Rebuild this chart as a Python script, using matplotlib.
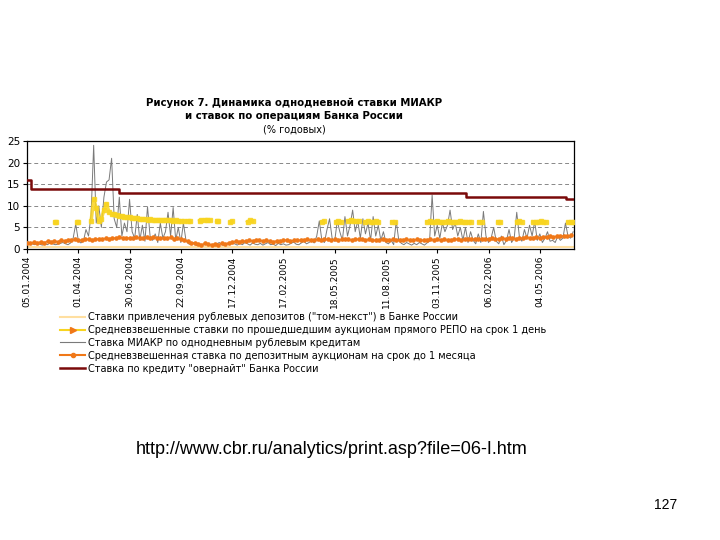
import numpy as np
import matplotlib
matplotlib.use("Agg")
import matplotlib.pyplot as plt
from matplotlib.lines import Line2D

plt.rcParams['font.family'] = ['DejaVu Sans']

# торговые дни, шкала по индексу
n_days = 640
tick_pos = [0, 60, 120, 180, 240, 300, 360, 420, 480, 540, 600]
tick_labels = ['05.01.2004', '01.04.2004', '30.06.2004', '22.09.2004', '17.12.2004',
               '17.02.2005', '18.05.2005', '11.08.2005', '03.11.2005', '06.02.2006',
               '04.05.2006']

# МИАКР, каждые 3 дня
miacr_step = 3
miacr = [
    1.8, 1.5, 1.2, 1.0, 1.3, 1.1, 0.9, 1.2, 1.0, 1.4,
    1.2, 1.0, 1.1, 1.3, 1.5, 1.2, 1.0, 1.4, 2.5, 5.8,
    2.0, 1.4, 1.8, 4.5, 3.0, 8.0, 24.0, 6.0, 10.0, 5.0,
    12.0, 15.5, 16.0, 21.0, 7.0, 5.0, 12.0, 3.0, 6.0, 4.0,
    11.5, 4.0, 2.5, 8.0, 2.0, 5.5, 1.8, 9.8, 3.0, 2.0,
    3.5, 1.5, 6.0, 2.5, 4.0, 8.5, 3.0, 9.6, 2.0, 5.0,
    1.5, 6.0, 2.0, 1.2, 1.0, 1.5, 0.8, 1.2, 0.8, 1.0,
    1.3, 0.9, 1.1, 0.8, 1.2, 1.5, 1.0, 0.8, 1.2, 1.0,
    1.4, 1.2, 0.9, 1.3, 1.0, 1.5, 1.2, 0.9, 1.4, 1.1,
    1.0, 1.3, 0.9, 1.2, 1.5, 1.0, 1.1, 0.8, 1.3, 1.0,
    1.2, 0.9, 1.0, 1.3, 1.6, 1.1, 1.0, 1.4, 1.8, 1.2,
    1.5, 2.0, 1.4, 3.0, 6.5, 2.0, 1.5, 4.5, 7.0, 2.5,
    1.8, 6.5, 4.0, 2.0, 7.5, 3.0, 5.5, 9.0, 4.0, 6.5,
    2.5, 7.0, 3.5, 6.0, 2.0, 7.5, 3.0, 5.5, 2.0, 4.0,
    1.5, 1.2, 2.0, 1.0, 6.5, 2.0, 1.3, 1.0, 1.5, 1.2,
    0.9, 1.3, 1.0, 1.5, 1.2, 0.9, 1.4, 1.8, 12.5, 3.0,
    5.5, 2.5, 6.0, 4.0, 5.5, 9.0, 4.5, 6.0, 3.0, 5.0,
    2.0, 5.0, 1.5, 4.0, 2.0, 1.2, 3.5, 1.5, 8.7, 3.0,
    1.5, 2.5, 5.0, 1.8, 1.2, 3.0, 1.0, 2.0, 4.5, 1.5,
    2.5, 8.5, 3.0, 1.8, 4.5, 2.5, 5.5, 3.0, 6.4, 2.0,
    3.5, 1.5, 2.5, 4.0, 1.8, 2.0, 1.5, 3.0, 2.0, 2.5,
    6.0, 3.0, 2.5, 4.0,
]

# депозитные аукционы, каждые 4 дня
depauc_step = 4
depauc = [
    1.5, 1.3, 1.6, 1.4, 1.7, 1.5, 1.8, 1.6, 1.9, 1.7,
    2.0, 1.9, 2.1, 2.0, 2.2, 2.1, 2.0, 2.2, 2.3, 2.1,
    2.2, 2.4, 2.3, 2.5, 2.4, 2.6, 2.5, 2.7, 2.6, 2.5,
    2.6, 2.5, 2.7, 2.6, 2.5, 2.7, 2.6, 2.8, 2.6, 2.5,
    2.6, 2.5, 2.7, 2.4, 2.5, 2.3, 2.0, 1.8, 1.5, 1.3,
    1.2, 1.0, 1.3, 1.1, 0.9, 1.2, 1.0, 1.3, 1.1, 1.5,
    1.6, 1.8, 1.7, 1.9, 1.8, 2.0, 1.9, 2.1, 2.0, 1.9,
    2.0, 1.8, 1.7, 1.9, 1.8, 2.0, 2.1, 1.9, 2.0, 2.1,
    2.0, 2.1, 2.2, 2.0, 2.1, 2.2, 2.1, 2.3, 2.2, 2.1,
    2.2, 2.1, 2.2, 2.3, 2.2, 2.1, 2.2, 2.3, 2.2, 2.1,
    2.2, 2.1, 2.0, 2.1, 2.2, 2.1, 2.0, 2.2, 2.1, 2.0,
    2.1, 2.2, 2.0, 2.1, 2.2, 2.1, 2.0, 2.1, 2.2, 2.1,
    2.2, 2.1, 2.2, 2.0, 2.1, 2.2, 2.3, 2.1, 2.2, 2.3,
    2.2, 2.3, 2.4, 2.3, 2.2, 2.4, 2.5, 2.4, 2.3, 2.5,
    2.4, 2.6, 2.5, 2.4, 2.6, 2.5, 2.7, 2.6, 2.5, 2.7,
    2.6, 2.8, 2.7, 2.9, 2.8, 3.0, 2.9, 3.1, 3.0, 3.2,
]

# РЕПО (пропуски = nan)
nan = np.nan
repo_x = [33, 34, nan, 59, 60, nan,
          75, 78, 81, 84, 87, 90, 93, 96, 99, 102, 105, 108, 111, 114, 117,
          120, 123, 126, 129, 132, 135, 138, 141, 144, 147, 150, 153, 156, 159,
          162, 165, 168, 171, 174, 177, 180, 184, 188, 191, nan,
          202, 204, nan, 208, 211, 214, nan, 222, 224, nan, 238, 240, nan,
          258, 261, 264, nan,
          345, 347, nan, 362, 364, 367, nan, 376, 379, 382, 385, 388, nan,
          396, 399, 402, 405, 408, 411, nan, 427, 430, nan,
          468, 471, 474, 477, 480, 483, 486, 489, 492, 495, 498, 501, 504, 507,
          510, 513, 516, 519, nan, 529, 532, nan, 551, 554, nan,
          573, 576, 579, nan, 592, 595, 598, 601, 604, 607, nan, 633, 636, 639]
repo_y = [6.3, 6.3, nan, 6.2, 6.2, nan,
          6.5, 11.5, 9.5, 6.5, 7.0, 9.0, 10.5, 8.5, 8.2, 8.0, 7.8, 7.7, 7.6, 7.5, 7.4,
          7.3, 7.2, 7.2, 7.1, 7.0, 7.0, 6.9, 6.8, 6.9, 6.8, 6.7, 6.8, 6.7, 6.6,
          6.7, 6.6, 6.6, 6.5, 6.6, 6.5, 6.5, 6.4, 6.5, 6.4, nan,
          6.5, 6.6, nan, 6.7, 6.8, 6.6, nan, 6.5, 6.4, nan, 6.2, 6.4, nan,
          6.3, 6.6, 6.5, nan,
          6.3, 6.4, nan, 6.3, 6.4, 6.3, nan, 6.5, 6.6, 6.5, 6.4, 6.5, nan,
          6.3, 6.4, 6.3, 6.3, 6.4, 6.3, nan, 6.3, 6.3, nan,
          6.3, 6.4, 6.3, 6.3, 6.4, 6.3, 6.2, 6.3, 6.4, 6.3, 6.3, 6.2, 6.3, 6.4,
          6.3, 6.3, 6.2, 6.3, nan, 6.3, 6.3, nan, 6.3, 6.2, nan,
          6.3, 6.4, 6.3, nan, 6.3, 6.2, 6.3, 6.4, 6.3, 6.3, nan, 6.2, 6.3, 6.2]

# овернайт (ступеньки)
overnight_x = [0, 5, 108, 514, 631, 639]
overnight_y = [16.0, 14.0, 13.0, 12.0, 11.5, 11.5]

# депозиты том-некст
tomnext_x = [0, 639]
tomnext_y = [0.5, 0.5]

legend_labels = [
    'Ставки привлечения рублевых депозитов ("том-некст") в Банке России',
    'Средневзвешенные ставки по прошедшедшим аукционам прямого РЕПО на срок 1 день',
    'Ставка МИАКР по однодневным рублевым кредитам',
    'Средневзвешенная ставка по депозитным аукционам на срок до 1 месяца',
    'Ставка по кредиту "овернайт" Банка России',
]

c_tom = '#FFDFA0'
c_repo = '#F8D420'
c_miacr = '#7A7A7A'
c_dep = '#F07818'
c_on = '#7A0A0A'

fig = plt.figure(figsize=(7.2, 5.4), dpi=100)
ax = fig.add_axes([27 / 720, 1 - 249 / 540, 547 / 720, 108 / 540])

ax.plot(tomnext_x, tomnext_y, color=c_tom, lw=1.5, zorder=2)
ax.plot(np.arange(len(miacr)) * miacr_step, miacr, color=c_miacr, lw=0.7, zorder=3)
ax.plot(np.arange(len(depauc)) * depauc_step, depauc, color=c_dep, lw=0.8,
        marker='o', ms=2.3, mec=c_dep, zorder=4)
ax.plot(repo_x, repo_y, color=c_repo, lw=2.5, marker='s', ms=3.3, mec=c_repo,
        alpha=0.85, zorder=5)
ax.step(overnight_x, overnight_y, where='post', color=c_on, lw=1.8, zorder=6)

ax.set_xlim(0, n_days)
ax.set_ylim(0, 25)
ax.set_yticks([0, 5, 10, 15, 20, 25])
ax.set_xticks(tick_pos)
ax.set_xticklabels(tick_labels, rotation=90, fontsize=6.5)
ax.tick_params(axis='y', labelsize=7.5, length=3, pad=2)
ax.tick_params(axis='x', length=3, pad=2)
for y in [5, 10, 15, 20]:
    ax.axhline(y, color='#888888', lw=0.7, ls=(0, (4, 3)), zorder=1)
for s in ax.spines.values():
    s.set_linewidth(0.9)

fig.text(294 / 720, 1 - 103 / 540, 'Рисунок 7. Динамика однодневной ставки МИАКР',
         ha='center', va='center', fontsize=7.3, fontweight='bold')
fig.text(294 / 720, 1 - 116 / 540, 'и ставок по операциям Банка России',
         ha='center', va='center', fontsize=7.3, fontweight='bold')
fig.text(294 / 720, 1 - 130 / 540, '(% годовых)',
         ha='center', va='center', fontsize=7)

handles = [
    Line2D([], [], color=c_tom, lw=1.5),
    Line2D([], [], color=c_repo, lw=1.5, marker='>', ms=4, mfc=c_dep, mec=c_dep),
    Line2D([], [], color=c_miacr, lw=0.8),
    Line2D([], [], color=c_dep, lw=1.5, marker='o', ms=3),
    Line2D([], [], color=c_on, lw=1.8),
]
fig.legend(handles, legend_labels, loc='upper left',
           bbox_to_anchor=(60 / 720, 1 - 312 / 540), frameon=False,
           fontsize=7, handlelength=2.6, handletextpad=0.3, labelspacing=0.3,
           borderpad=0, borderaxespad=0)

fig.text(332 / 720, 1 - 450 / 540, 'http://www.cbr.ru/analytics/print.asp?file=06-I.htm',
         ha='center', va='center', fontsize=13, family='Liberation Sans')
fig.text(666 / 720, 1 - 505 / 540, '127', ha='center', va='center', fontsize=10,
         family='Liberation Sans')

fig.savefig('out.png', dpi=100, facecolor='white')
